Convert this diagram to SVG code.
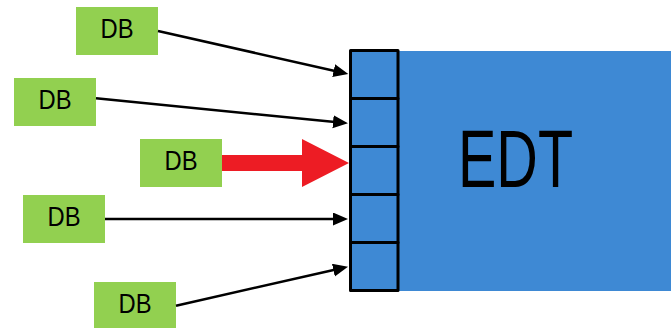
<svg xmlns="http://www.w3.org/2000/svg" width="671" height="328" viewBox="0 0 671 328">
  <style>
    .db rect { fill: #92D050; }
    .db text { font-family: "Liberation Sans", Arial, sans-serif; font-size: 28px; fill: #000; text-anchor: middle; }
    .conn line { stroke: #000; stroke-width: 2.5; fill: none; }
    .cell { fill: #3E89D4; stroke: #000; stroke-width: 3; stroke-linejoin: round; }
  </style>
  <defs>
    <marker id="ah" markerUnits="userSpaceOnUse" markerWidth="16" markerHeight="14" refX="7" refY="6.5" orient="auto">
      <path d="M0,0 L15,6.5 L0,13 z" fill="#000"/>
    </marker>
  </defs>

  <g id="edt">
    <rect x="350" y="51" width="321" height="240" fill="#3E89D4"/>
    <text x="515.5" y="186.5" font-family="Liberation Sans, Arial, sans-serif" font-size="81" text-anchor="middle" textLength="115" lengthAdjust="spacingAndGlyphs" fill="#000">EDT</text>
  </g>

  <g id="buffer">
    <rect class="cell" x="350.5" y="50.5" width="47.5" height="48"/>
    <rect class="cell" x="350.5" y="98.5" width="47.5" height="48"/>
    <rect class="cell" x="350.5" y="146.5" width="47.5" height="48"/>
    <rect class="cell" x="350.5" y="194.5" width="47.5" height="48"/>
    <rect class="cell" x="350.5" y="242.5" width="47.5" height="48"/>
  </g>

  <g id="db1" class="db">
    <rect x="76" y="7" width="82" height="48"/>
    <text x="117" y="37.5" textLength="33" lengthAdjust="spacingAndGlyphs">DB</text>
  </g>
  <g id="db2" class="db">
    <rect x="14" y="78" width="82" height="48"/>
    <text x="55" y="108.5" textLength="33" lengthAdjust="spacingAndGlyphs">DB</text>
  </g>
  <g id="db3" class="db">
    <rect x="140" y="139" width="82" height="48"/>
    <text x="181" y="169.5" textLength="33" lengthAdjust="spacingAndGlyphs">DB</text>
  </g>
  <g id="db4" class="db">
    <rect x="23" y="195" width="82" height="48"/>
    <text x="64" y="225.5" textLength="33" lengthAdjust="spacingAndGlyphs">DB</text>
  </g>
  <g id="db5" class="db">
    <rect x="94" y="282" width="82" height="48"/>
    <text x="135" y="312.5" textLength="33" lengthAdjust="spacingAndGlyphs">DB</text>
  </g>

  <g id="connectors" class="conn">
    <line x1="158" y1="31" x2="340.5" y2="72.2" marker-end="url(#ah)"/>
    <line x1="96" y1="98.3" x2="340" y2="122.5" marker-end="url(#ah)"/>
    <polygon points="222,155 302,155 302,139 349,163 302,187 302,171 222,171" fill="#ED1C24"/>
    <line x1="105" y1="219" x2="340" y2="219" marker-end="url(#ah)"/>
    <line x1="176" y1="305.7" x2="340.2" y2="268.5" marker-end="url(#ah)"/>
  </g>
</svg>
